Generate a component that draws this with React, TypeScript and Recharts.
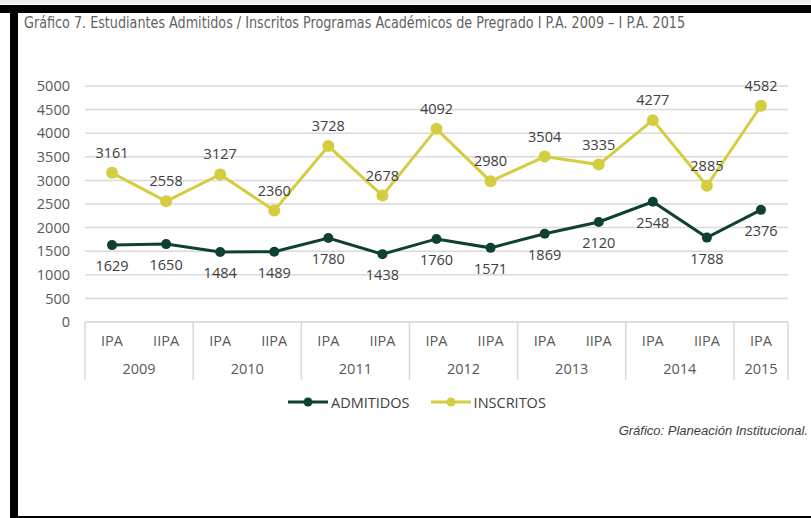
import React from "react";
import { LineChart, Line, XAxis, YAxis, CartesianGrid, Legend, LabelList } from "recharts";

const periods = ["IPA", "IIPA", "IPA", "IIPA", "IPA", "IIPA", "IPA", "IIPA", "IPA", "IIPA", "IPA", "IIPA", "IPA"];
const years = ["2009", "2009", "2010", "2010", "2011", "2011", "2012", "2012", "2013", "2013", "2014", "2014", "2015"];
const admitidos = [1629, 1650, 1484, 1489, 1780, 1438, 1760, 1571, 1869, 2120, 2548, 1788, 2376];
const inscritos = [3161, 2558, 3127, 2360, 3728, 2678, 4092, 2980, 3504, 3335, 4277, 2885, 4582];
const yTicks = [0, 500, 1000, 1500, 2000, 2500, 3000, 3500, 4000, 4500, 5000];

const data = periods.map((p, i) => ({
  period: p,
  year: years[i],
  ADMITIDOS: admitidos[i],
  INSCRITOS: inscritos[i],
}));

const GREEN = "#0f4036";
const YELLOW = "#d5cd40";
const TEXT = "#595959";
const LINE_GRAY = "#d9d9d9";
const FONT = "'Open Sans', sans-serif";
const FS = 14.5;

const W = 811;
const H = 518;
const PLOT_L = 85;
const PLOT_R = 788;
const AXIS_Y = 322;
const BOX_BOTTOM = 380;
const HALF_BAND = (PLOT_R - PLOT_L) / periods.length / 2;

// category labels + year separators
const PeriodTick = (props: any) => {
  const { x, payload } = props;
  const i = payload.index;
  const firstOfYear = i === 0 || years[i - 1] !== years[i];
  const last = i === periods.length - 1;
  return (
    <g>
      {firstOfYear && (
        <line x1={x - HALF_BAND} x2={x - HALF_BAND} y1={AXIS_Y} y2={BOX_BOTTOM} stroke={LINE_GRAY} strokeWidth={1.5} />
      )}
      {last && (
        <line x1={x + HALF_BAND} x2={x + HALF_BAND} y1={AXIS_Y} y2={BOX_BOTTOM} stroke={LINE_GRAY} strokeWidth={1.5} />
      )}
      <text x={x} y={AXIS_Y + 24} textAnchor="middle" fill={TEXT} fontSize={FS} fontFamily={FONT}>
        {payload.value}
      </text>
      {firstOfYear && (
        <text
          x={years[i + 1] === years[i] ? x + HALF_BAND : x}
          y={AXIS_Y + 52}
          textAnchor="middle"
          fill={TEXT}
          fontSize={FS}
          fontFamily={FONT}
        >
          {years[i]}
        </text>
      )}
    </g>
  );
};

const LegendContent = (props: any) => {
  const items = props.payload || [];
  return (
    <div style={{ display: "flex", height: 20, alignItems: "center", fontFamily: FONT, fontSize: FS, color: "#404040" }}>
      {items.map((it: any) => (
        <div key={it.value} style={{ display: "flex", alignItems: "center", marginRight: 21 }}>
          <svg width={40} height={12} style={{ marginRight: 3 }}>
            <line x1={0} x2={40} y1={6} y2={6} stroke={it.color} strokeWidth={3} />
            <circle cx={20} cy={6} r={4.5} fill={it.color} />
          </svg>
          <span>{it.value}</span>
        </div>
      ))}
    </div>
  );
};

export default function App() {
  return (
    <div style={{ position: "absolute", left: 0, top: 0, width: W, height: H, background: "#fff", overflow: "hidden" }}>
      <div style={{ position: "absolute", left: 0, top: 0, width: W, height: 4, background: "#eeeeee" }} />
      <div style={{ position: "absolute", left: 0, top: 5, width: W, height: 8, background: "#000" }} />
      <div style={{ position: "absolute", left: 10, top: 5, width: 8, height: H - 5, background: "#000" }} />
      <div style={{ position: "absolute", left: 10, top: H - 2, width: W - 10, height: 2, background: "#000" }} />
      <svg style={{ position: "absolute", left: 0, top: 13 }} width={W} height={24}>
        <text
          x={24}
          y={15}
          fontSize={16}
          fill="#5f5f5f"
          fontFamily="'DejaVu Sans Condensed', 'Liberation Sans Narrow', sans-serif"
          textLength={661}
          lengthAdjust="spacingAndGlyphs"
        >
          Gráfico 7. Estudiantes Admitidos / Inscritos Programas Académicos de Pregrado I P.A. 2009 – I P.A. 2015
        </text>
      </svg>
      <div style={{ position: "absolute", left: 0, top: 0 }}>
        <LineChart width={W} height={H} data={data} margin={{ top: 86, right: W - PLOT_R, left: PLOT_L - 70, bottom: 118 }}>
          <CartesianGrid vertical={false} stroke={LINE_GRAY} strokeWidth={1.5} />
          <XAxis
            dataKey="period"
            interval={0}
            height={58}
            padding={{ left: HALF_BAND, right: HALF_BAND }}
            tickSize={0}
            tickMargin={0}
            stroke={LINE_GRAY}
            tick={PeriodTick}
          />
          <YAxis
            width={70}
            domain={[0, 5000]}
            ticks={yTicks}
            axisLine={false}
            tickLine={false}
            tickSize={0}
            tickMargin={15}
            tick={{ fill: TEXT, fontSize: FS, fontFamily: FONT }}
          />
          <Legend
            verticalAlign="bottom"
            content={LegendContent}
            wrapperStyle={{ left: 288, top: 392, bottom: "auto", width: "auto" }}
          />
          <Line
            dataKey="ADMITIDOS"
            stroke={GREEN}
            strokeWidth={3}
            dot={{ r: 5, fill: GREEN, stroke: GREEN, strokeWidth: 0 }}
            isAnimationActive={false}
          >
            <LabelList dataKey="ADMITIDOS" position="bottom" offset={16} fill="#404040" fontSize={FS} fontFamily={FONT} />
          </Line>
          <Line
            dataKey="INSCRITOS"
            stroke={YELLOW}
            strokeWidth={3}
            dot={{ r: 6, fill: YELLOW, stroke: YELLOW, strokeWidth: 0 }}
            isAnimationActive={false}
          >
            <LabelList dataKey="INSCRITOS" position="top" offset={15} fill="#404040" fontSize={FS} fontFamily={FONT} />
          </Line>
        </LineChart>
      </div>
      <div
        style={{
          position: "absolute",
          right: 3,
          top: 423,
          fontFamily: "'Liberation Sans', Arial, sans-serif",
          fontStyle: "italic",
          fontSize: 13,
          color: "#404040",
        }}
      >
        Gráfico: Planeación Institucional.
      </div>
    </div>
  );
}
